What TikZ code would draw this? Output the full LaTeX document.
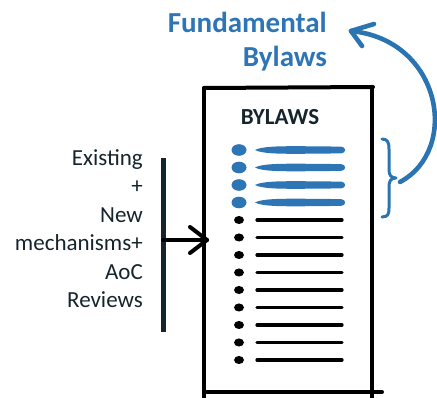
\documentclass[tikz,border=0pt]{standalone}
\usepackage{fontspec}
\setmainfont{Carlito}
\definecolor{bluec}{RGB}{46,117,182}
\definecolor{arrowc}{RGB}{42,116,178}
\definecolor{darkc}{RGB}{22,36,44}
\begin{document}
\begin{tikzpicture}[x=1pt,y=-1pt,
  lbl/.style={font=\fontsize{23}{28}\selectfont, text=darkc, inner sep=0pt, anchor=base east},
  ttl/.style={font=\bfseries\fontsize{29}{34}\selectfont, text=bluec, inner sep=0pt, anchor=base east},
  docline/.style={draw=black, line width=4pt, line cap=round},
  bluebar/.style={fill=bluec},
  blackbar/.style={draw=black, line width=3.2pt, line cap=round},
  bluearrow/.style={draw=arrowc, line width=4.6pt, line cap=round, line join=round},
  darkarrow/.style={draw=black, line width=4pt, line cap=round, line join=round}]
\useasboundingbox (0,0) rectangle (437,398);

% title
\node[ttl] (fund1) at (327,33) {Fundamental};
\node[ttl] (fund2) at (327,67) {Bylaws};

% document
\draw[docline] (204,88) -- (373,87);
\draw[docline] (204,88) -- (204,398);
\draw[docline] (372,87) -- (372,398);
\draw[docline] (204,392) -- (382,392);
\node[font=\bfseries\fontsize{23}{28}\selectfont, text=darkc, inner sep=0pt, anchor=base] (bylaws) at (280,125) {BYLAWS};

% blue rows
\foreach \y in {150,167.5,185,202.5} {
  \fill[bluec] (239,\y) ellipse [x radius=7.5pt, y radius=5.8pt];
  \fill[bluec] (255,\y) .. controls (262,\y-3.8) and (280,\y-3.8) .. (300,\y-3.8) -- (341,\y-3.4)
     .. controls (346.5,\y-3.4) and (346.5,\y+3.4) .. (341,\y+3.4) -- (300,\y+3.8)
     .. controls (280,\y+3.8) and (262,\y+3.8) .. (255,\y) -- cycle;
}
% black rows
\foreach \y in {220,237.5,255,272.5,290,307.5,325,342.5,360} {
  \fill[black] (239,\y) ellipse [x radius=5pt, y radius=4pt];
  \draw[blackbar] (257,\y) -- (342,\y);
}

% brace
\draw[bluearrow, line width=3pt] (382,139) .. controls (388,139) and (389,143) .. (389,149) -- (389,170)
  .. controls (389,175) and (391,178) .. (396,178)
  .. controls (391,178) and (389,181) .. (389,186) -- (389,208)
  .. controls (389,214) and (388,217) .. (382,217);

% curved arrow
\coordinate (bracetip) at (400,182);
\coordinate (arrtip) at (351,31);
\draw[bluearrow] (bracetip) .. controls (460,150) and (442,40) .. (arrtip);
\draw[bluearrow] (374,24) -- (arrtip) -- (362,46);

% left text
\node[lbl] (l1) at (143,165.5) {Existing};
\node[lbl] (l2) at (143,194) {+};
\node[lbl] (l3) at (143,222.5) {New};
\node[lbl] (l4) at (143,251) {mechanisms+};
\node[lbl] (l5) at (143,279.5) {AoC};
\node[lbl] (l6) at (143,308) {Reviews};

% bar and arrow
\coordinate (bartop) at (163,158);
\coordinate (barbot) at (163,332);
\draw[draw=darkc, line width=5pt] (bartop) -- (barbot);
\coordinate (barmid) at (163,240);
\coordinate (doctip) at (207,240);
\draw[darkarrow] (barmid) -- (doctip);
\draw[darkarrow] (190,227) -- (doctip) -- (190,253);
\end{tikzpicture}
\end{document}
